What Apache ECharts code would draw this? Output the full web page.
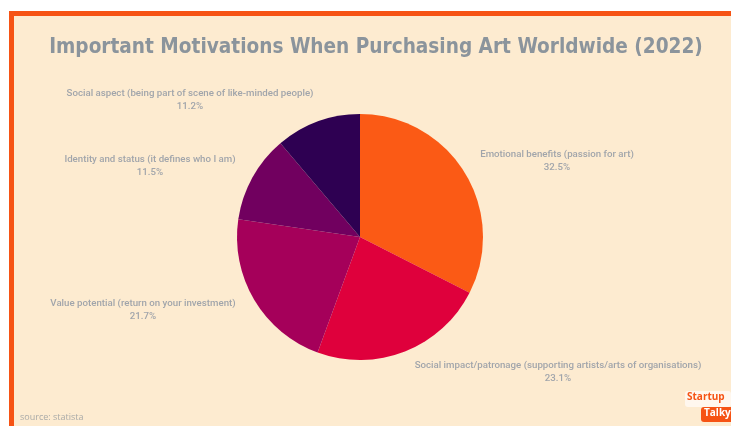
<!DOCTYPE html>
<html>
<head>
<meta charset="utf-8">
<script src="https://cdn.jsdelivr.net/npm/echarts@6/dist/echarts.min.js"></script>
<style>
  html, body { margin: 0; padding: 0; background: #ffffff; }
  #chart { width: 731px; height: 426px; }
</style>
</head>
<body>
<div id="chart"></div>
<script>
// Motivation categories, clockwise from 12 o'clock
const categories = [
  'Emotional benefits (passion for art)',
  'Social impact/patronage (supporting artists/arts of organisations)',
  'Value potential (return on your investment)',
  'Identity and status (it defines who I am)',
  'Social aspect (being part of scene of like-minded people)'
];
// Share of respondents, percent
const shares = [32.5, 23.1, 21.7, 11.5, 11.2];

// Slice colours
const sliceColors = ['#fb5a15', '#df003c', '#a5005a', '#71005f', '#2e0052'];
// Label anchor points (centre of each two-line label)
const labelAnchors = [[557, 161], [558, 372], [143, 310], [150, 166], [190, 100]];

const chart = echarts.init(document.getElementById('chart'), null, { renderer: 'canvas' });

const seriesData = categories.map((name, i) => ({
  name: name,
  value: shares[i],
  itemStyle: { color: sliceColors[i] }
}));

chart.setOption({
  animation: false,
  backgroundColor: '#ffffff',
  graphic: [
    // orange frame and cream panel
    { type: 'rect', z: -10, shape: { x: 9, y: 11, width: 722, height: 415 }, style: { fill: '#f65314' } },
    { type: 'rect', z: -9, shape: { x: 14, y: 16, width: 717, height: 410 }, style: { fill: '#fdebd0' } },
    // source note
    { type: 'text', left: 20, top: 413, style: { text: 'source: statista', fill: '#a9aaa8', font: '9px "Open Sans"' } },
    // brand mark
    { type: 'rect', left: 685, top: 391, shape: { width: 46, height: 16, r: 3 }, style: { fill: '#fff7ee' } },
    { type: 'text', left: 687, top: 392, style: { text: 'Startup', fill: '#f65314', font: 'bold 10px "Open Sans"' } },
    { type: 'rect', left: 701, top: 407, shape: { width: 32, height: 15, r: 3 }, style: { fill: '#f65314' } },
    { type: 'text', left: 704, top: 408, style: { text: 'Talky', fill: '#ffffff', font: 'bold 10px "Open Sans"' } }
  ],
  title: {
    text: 'Important Motivations When Purchasing Art Worldwide (2022)',
    left: 371,
    textAlign: 'center',
    top: 32,
    textStyle: {
      fontFamily: '"DejaVu Sans Condensed", "DejaVu Sans"',
      fontWeight: 'bold',
      fontSize: 20.6,
      color: '#8b949c'
    }
  },
  series: [{
    type: 'pie',
    center: [360, 237],
    radius: 123,
    startAngle: 90,
    clockwise: true,
    data: seriesData,
    label: {
      show: true,
      formatter: p => p.name + '\n' + p.value.toFixed(1) + '%',
      color: '#a1a5ab',
      fontFamily: 'Roboto',
      fontWeight: 500,
      fontSize: 9.7,
      lineHeight: 13,
      align: 'center',
      overflow: 'none'
    },
    labelLine: { show: false },
    labelLayout: p => ({
      x: labelAnchors[p.dataIndex][0],
      y: labelAnchors[p.dataIndex][1],
      align: 'center',
      verticalAlign: 'middle',
      width: 400
    }),
    emphasis: { disabled: true }
  }]
});
</script>
</body>
</html>
